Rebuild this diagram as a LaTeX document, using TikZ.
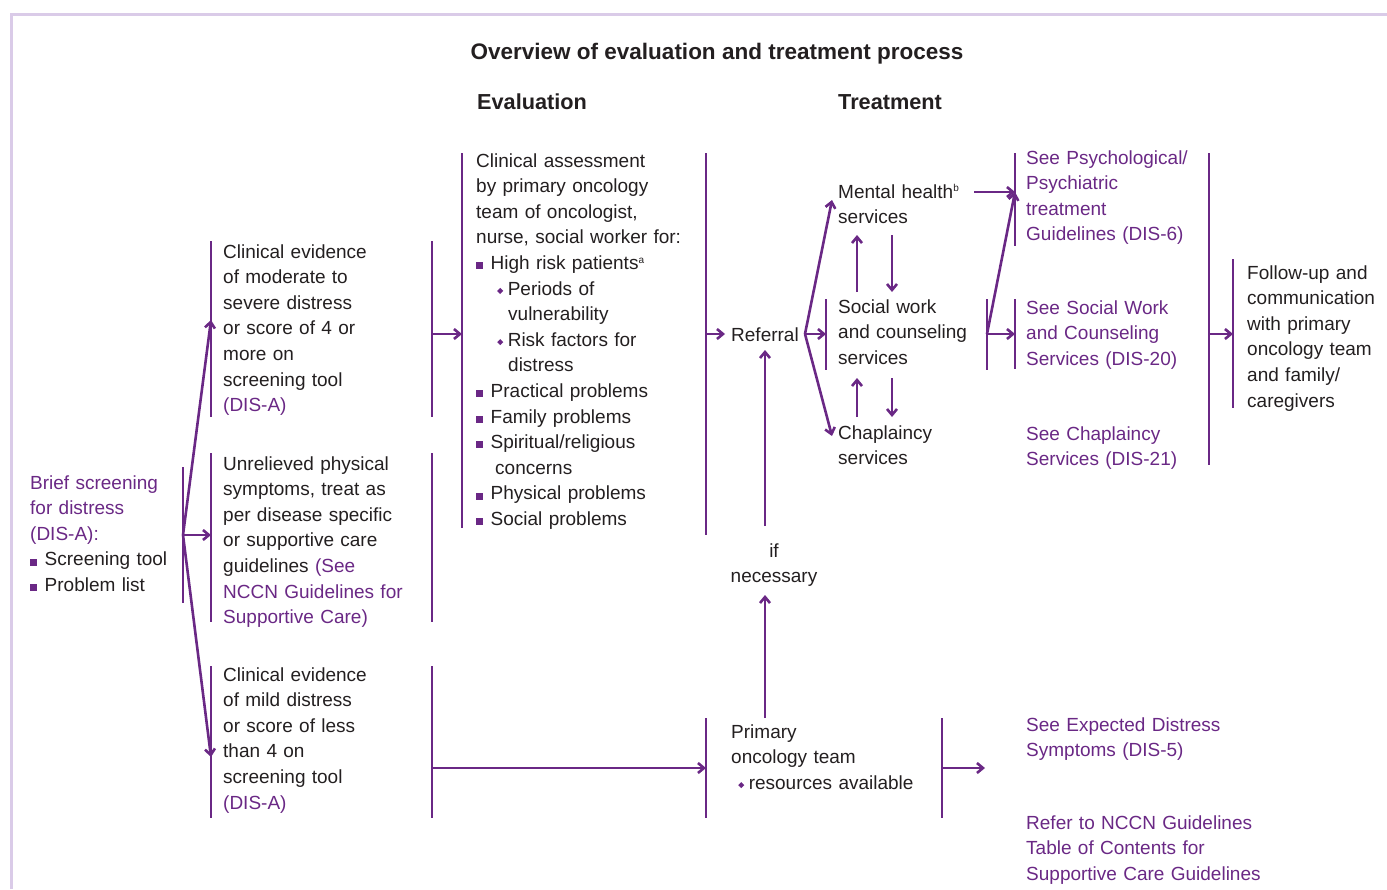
\documentclass[tikz,border=0pt]{standalone}
\usepackage{fontspec}
\usepackage{graphicx}
\setmainfont{Liberation Sans}
\usetikzlibrary{arrows.meta}
\definecolor{pp}{RGB}{106,40,133}
\definecolor{tx}{RGB}{35,31,32}
\definecolor{fr}{RGB}{218,203,232}
\newcommand{\sqb}{\textcolor{pp}{\rule[0.3pt]{7pt}{7pt}}\hspace{7.5pt}}
\newcommand{\dmb}{\textcolor{pp}{\raisebox{1pt}{\rotatebox{45}{\rule{4.3pt}{4.3pt}}}}\hspace{4.5pt}}
\begin{document}
\begin{tikzpicture}[x=1pt,y=-1pt,
  txt/.style={anchor=base west, text width=250pt, align=left, inner sep=0pt,
    font=\fontsize{19}{25.6}\selectfont, text=tx},
  ptxt/.style={txt, text=pp},
  bar/.style={draw=pp, line width=2.6pt},
  arr/.style={draw=pp, line width=2.6pt, -{Straight Barb[length=6pt,width=10pt]}},
  hd/.style={anchor=base west, inner sep=0pt, font=\bfseries\fontsize{21.7}{25}\selectfont, text=tx}]
\useasboundingbox (0,0) rectangle (1387,889);
% frame
\draw[fr, line width=3pt] (11,889) -- (11,14) -- (1387,14);
% headings
\node[hd, anchor=base] (title) at (717,59) {\fontsize{22.5}{26}\selectfont Overview of evaluation and treatment process};
\node[hd] (evalh) at (477,109) {Evaluation};
\node[hd] (treath) at (838,109) {Treatment};
% texts
\node[ptxt] (brief) at (30,489) {Brief screening\\for distress\\(DIS-A):\\\textcolor{tx}{\sqb Screening tool}\\\textcolor{tx}{\sqb Problem list}};
\node[txt] (ev1) at (223,258) {Clinical evidence\\of moderate to\\severe distress\\or score of 4 or\\more on\\screening tool\\{\color{pp}(DIS-A)}};
\node[txt] (ev2) at (223,470) {Unrelieved physical\\symptoms, treat as\\per disease specific\\or supportive care\\guidelines {\color{pp}(See}\\{\color{pp}NCCN Guidelines for}\\{\color{pp}Supportive Care)}};
\node[txt] (ev3) at (223,681) {Clinical evidence\\of mild distress\\or score of less\\than 4 on\\screening tool\\{\color{pp}(DIS-A)}};
\node[txt] (assess) at (476,167) {Clinical assessment\\by primary oncology\\team of oncologist,\\nurse, social worker for:\\
\sqb High risk patients\textsuperscript{\fontsize{10}{10}\selectfont a}\\
\hspace*{21pt}\dmb Periods of\\
\hspace*{32pt}vulnerability\\
\hspace*{21pt}\dmb Risk factors for\\
\hspace*{32pt}distress\\
\sqb Practical problems\\
\sqb Family problems\\
\sqb Spiritual/religious\\
\hspace*{19pt}concerns\\
\sqb Physical problems\\
\sqb Social problems};
\node[txt] (ref) at (731,341) {Referral};
\node[txt] (prim) at (731,738) {Primary\\oncology team\\\hspace*{7pt}\dmb resources available};
\node[txt, text width=120pt, align=center, anchor=base] (ifn) at (774,557) {if\\necessary};
\node[txt] (mh) at (838,198) {Mental health\textsuperscript{\fontsize{10}{10}\selectfont b}\\services};
\node[txt] (sw) at (838,313) {Social work\\and counseling\\services};
\node[txt] (ch) at (838,439) {Chaplaincy\\services};
\node[ptxt] (psy) at (1026,164) {See Psychological/\\Psychiatric\\treatment\\Guidelines (DIS-6)};
\node[ptxt] (sws) at (1026,314) {See Social Work\\and Counseling\\Services (DIS-20)};
\node[ptxt] (chs) at (1026,440) {See Chaplaincy\\Services (DIS-21)};
\node[txt] (fu) at (1247,279) {Follow-up and\\communication\\with primary\\oncology team\\and family/\\caregivers};
\node[ptxt] (exp) at (1026,731) {See Expected Distress\\Symptoms (DIS-5)};
\node[ptxt] (nccn) at (1026,829) {Refer to NCCN Guidelines\\Table of Contents for\\Supportive Care Guidelines};
% bars
\draw[bar] (183,467) -- (183,603);
\draw[bar] (211,241) -- (211,417);
\draw[bar] (211,453) -- (211,622);
\draw[bar] (211,666) -- (211,818);
\draw[bar] (432,241) -- (432,417);
\draw[bar] (432,453) -- (432,622);
\draw[bar] (432,666) -- (432,818);
\draw[bar] (462,153) -- (462,528);
\draw[bar] (706,153) -- (706,535);
\draw[bar] (706,718) -- (706,818);
\draw[bar] (942,718) -- (942,818);
\draw[bar] (826,299) -- (826,370);
\draw[bar] (987,299) -- (987,370);
\draw[bar] (1015,153) -- (1015,246);
\draw[bar] (1015,299) -- (1015,369);
\draw[bar] (1209,153) -- (1209,465);
\draw[bar] (1233,259) -- (1233,408);
% coordinates
\coordinate (s0) at (183,535);
\coordinate (r0) at (805,334);
\coordinate (w0) at (987,334);
% arrows
\draw[arr] (s0) -- (211,320);
\draw[arr] (s0) -- (211,535);
\draw[arr] (s0) -- (211,757);
\draw[arr] (432,334) -- (462,334);
\draw[arr] (706,334) -- (725,334);
\draw[arr] (r0) -- (832,200);
\draw[arr] (r0) -- (826,334);
\draw[arr] (r0) -- (832,436);
\draw[arr] (857,292) -- (857,235);
\draw[arr] (892,235) -- (892,292);
\draw[arr] (857,417) -- (857,378);
\draw[arr] (892,378) -- (892,417);
\draw[arr] (974,192) -- (1015,192);
\draw[arr] (w0) -- (1015,192);
\draw[arr] (w0) -- (1015,334);
\draw[arr] (1209,334) -- (1233,334);
\draw[arr] (432,768) -- (706,768);
\draw[arr] (942,768) -- (985,768);
\draw[arr] (765,718) -- (765,595);
\draw[arr] (765,526) -- (765,350);
\end{tikzpicture}
\end{document}
